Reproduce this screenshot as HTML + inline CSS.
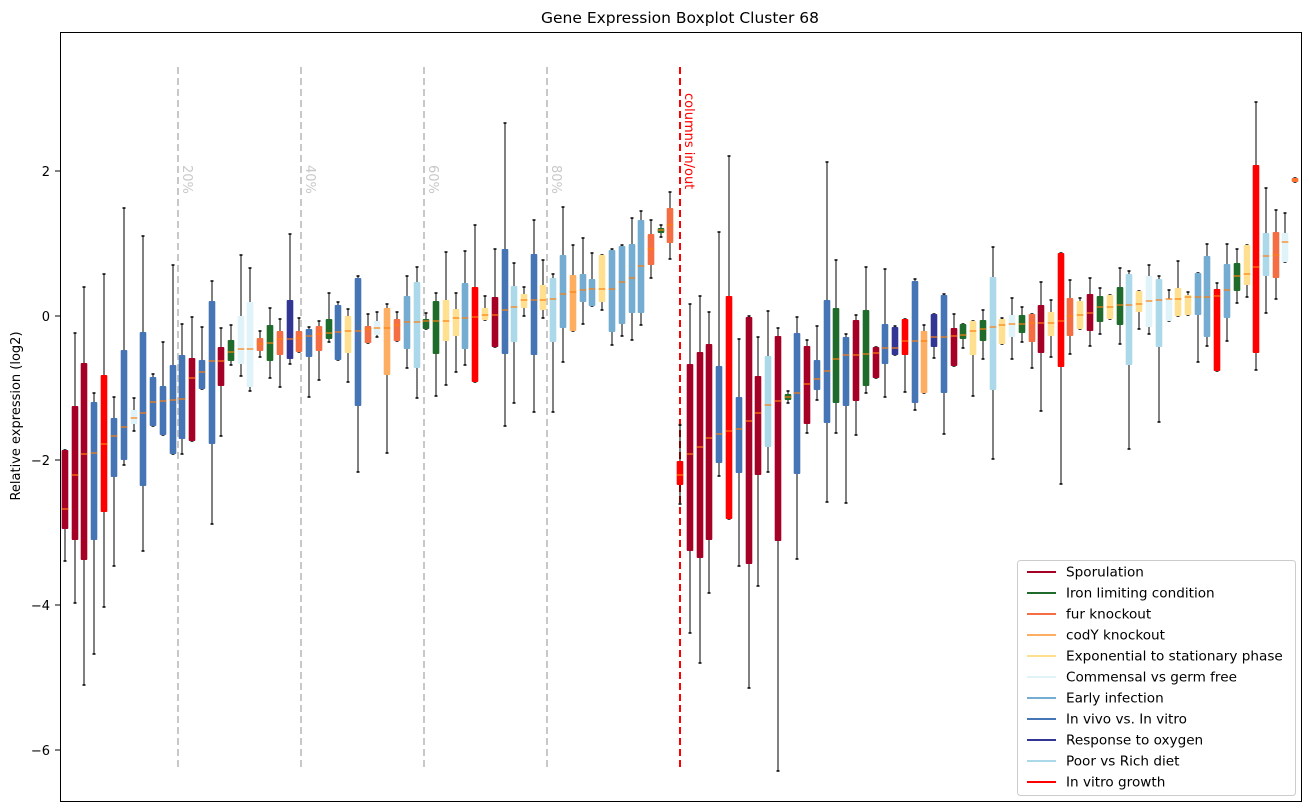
<!DOCTYPE html>
<html><head><meta charset="utf-8"><style>
body{margin:0;background:#fff}
svg{display:block;font-family:"DejaVu Sans","Liberation Sans",sans-serif}
</style></head><body>
<svg id="s" width="1309" height="812" xmlns="http://www.w3.org/2000/svg">
<rect width="1309" height="812" fill="#fff"/>
<text x="680" y="23" font-size="15.5" text-anchor="middle">Gene Expression Boxplot Cluster 68</text>
<text transform="translate(20,416) rotate(-90)" font-size="13" text-anchor="middle">Relative expression (log2)</text>
<g font-size="13" text-anchor="end">
<text x="50" y="176">2</text><text x="50" y="321">0</text><text x="50" y="465">−2</text><text x="50" y="610">−4</text><text x="50" y="755">−6</text>
</g>
<g stroke="#000"><line x1="55" x2="60" y1="171" y2="171"/><line x1="55" x2="60" y1="316" y2="316"/><line x1="55" x2="60" y1="460" y2="460"/><line x1="55" x2="60" y1="605" y2="605"/><line x1="55" x2="60" y1="750" y2="750"/></g>
<g stroke="#c8c8c8" stroke-width="2" stroke-dasharray="7,4">
<line x1="178" x2="178" y1="67" y2="767"/><line x1="301" x2="301" y1="67" y2="767"/><line x1="424" x2="424" y1="67" y2="767"/><line x1="547" x2="547" y1="67" y2="767"/>
</g>
<g fill="#c8c8c8" font-size="13">
<text transform="translate(183,165) rotate(90)">20%</text>
<text transform="translate(306,165) rotate(90)">40%</text>
<text transform="translate(429,165) rotate(90)">60%</text>
<text transform="translate(552,165) rotate(90)">80%</text>
</g>
<line x1="680" x2="680" y1="67" y2="767" stroke="#f00" stroke-width="2" stroke-dasharray="7,4"/>
<text transform="translate(685,93) rotate(90)" fill="#f00" font-size="13">columns in/out</text>
<g id="bx"></g>
<rect x="60.5" y="32.5" width="1241" height="769" fill="none" stroke="#000"/>
<g>
<rect x="1017.5" y="560.5" width="278" height="235" rx="3" fill="#fff" fill-opacity="0.85" stroke="#ccc"/>
<g id="lg" font-size="13.6"></g>
</g>
</svg>
<script>
var C={s:"#a50026",g:"#1e6b2b",f:"#f46d43",c:"#fdae61",e:"#fee090",m:"#e0f3f8",a:"#74add1",v:"#4575b4",o:"#313695",p:"#abd9e9",r:"#ff0000"};
var D=[
[65,450,450,509,529,561,"s"],[75,333,406,475,540,603,"s"],[84,287,363,454,560,685,"s"],[94,393,402,453,540,654,"v"],
[104,274,375,444,512,607,"r"],[114,397,418,436,477,566,"v"],[124,208,350,427,460,465,"v"],[134,398,410,418,424,431,"m"],
[143,236,332,413,486,551,"v"],[153,374,377,402,426,426,"v"],[163,342,386,401,435,435,"v"],[173,265,365,400,454,454,"v"],
[182,324,355,399,439,454,"v"],[192,317,358,378,441,441,"s"],[202,327,360,372,389,389,"v"],[212,281,301,361,444,524,"v"],
[221,328,347,361,386,436,"s"],[231,325,340,352,361,365,"g"],[241,255,316,349,364,376,"m"],[250,268,302,349,387,391,"m"],
[260,331,338,344,351,357,"f"],[270,308,325,343,361,378,"g"],[280,319,331,339,355,387,"f"],[290,234,300,339,359,364,"o"],
[299,318,331,338,352,352,"f"],[309,327,329,336,357,397,"v"],[319,321,326,334,351,380,"f"],[329,293,319,333,339,342,"g"],
[338,302,305,332,360,360,"v"],[348,309,316,331,353,382,"e"],[358,276,278,331,406,472,"v"],[368,314,326,329,343,343,"f"],
[377,312,321,328,335,337,"m"],[387,304,308,328,375,453,"c"],[397,312,319,325,341,341,"f"],[407,276,296,322,349,368,"a"],
[417,267,282,322,368,398,"p"],[426,313,319,321,329,329,"g"],[436,293,301,321,354,396,"g"],[446,252,300,321,341,385,"e"],
[456,293,309,318,336,372,"e"],[465,251,283,318,349,365,"a"],[475,225,287,317,382,382,"r"],[485,296,308,315,320,320,"e"],
[495,249,297,315,347,347,"s"],[505,123,249,310,354,426,"v"],[514,263,286,307,342,403,"p"],[524,287,294,300,308,316,"e"],
[534,220,254,300,355,412,"v"],[543,260,285,300,310,318,"e"],[553,274,278,299,342,412,"p"],[563,207,255,294,328,362,"a"],
[573,245,275,292,331,331,"c"],[583,238,274,290,302,324,"a"],[592,253,279,289,306,306,"a"],[602,255,255,289,302,310,"e"],
[612,249,250,289,332,345,"a"],[622,245,246,282,324,336,"a"],[632,218,244,278,313,340,"a"],[641,211,220,266,313,325,"a"],
[651,220,234,249,265,278,"f"],[661,225,228,230,233,237,"g"],[670,192,208,225,243,259,"f"],
[680,425,461,475,485,504,"r"],[690,304,364,454,551,633,"s"],[700,296,352,447,558,663,"s"],[709,312,344,438,540,593,"s"],
[719,232,366,434,463,476,"v"],[729,156,296,431,519,519,"r"],[739,339,397,429,473,566,"v"],[749,316,317,421,564,688,"s"],
[758,337,376,413,475,586,"s"],[768,311,356,405,447,472,"p"],[778,328,336,401,541,771,"s"],[788,391,394,397,400,403,"g"],
[797,317,333,393,474,559,"v"],[807,340,346,384,424,433,"s"],[817,326,360,379,390,400,"v"],[827,162,300,371,423,502,"v"],
[836,260,308,359,403,433,"g"],[846,334,337,355,406,503,"v"],[856,315,320,355,401,435,"s"],[866,267,310,354,386,393,"g"],
[876,347,347,353,378,378,"s"],[885,269,324,348,364,397,"v"],[895,326,327,348,355,355,"o"],[905,319,319,341,355,392,"r"],
[915,279,281,341,403,410,"v"],[924,325,331,341,393,393,"c"],[934,314,314,337,347,358,"o"],[944,294,295,337,393,434,"v"],
[954,314,328,336,366,366,"s"],[963,324,324,335,339,348,"g"],[973,321,321,331,355,396,"e"],[983,310,320,329,341,359,"g"],
[993,247,277,327,390,459,"p"],[1002,318,319,325,344,344,"e"],[1012,298,315,324,337,359,"m"],[1022,307,315,324,333,342,"g"],
[1032,314,314,323,342,368,"f"],[1041,282,305,323,353,411,"s"],[1051,300,312,323,336,357,"e"],[1061,253,253,321,367,484,"r"],
[1070,280,298,316,336,354,"f"],[1080,298,301,315,329,329,"e"],[1090,278,294,313,331,346,"s"],[1100,288,296,307,322,334,"g"],
[1110,295,295,307,319,319,"e"],[1120,268,287,305,325,344,"g"],[1129,271,274,305,365,449,"p"],[1139,291,291,304,312,329,"e"],
[1149,265,276,301,327,334,"m"],[1159,276,279,300,347,422,"p"],[1169,290,299,299,321,321,"m"],[1178,261,288,299,316,316,"e"],
[1188,292,295,297,315,315,"e"],[1198,273,273,297,315,362,"a"],[1207,244,256,297,337,346,"a"],[1217,283,289,296,371,371,"r"],
[1227,244,264,290,318,341,"a"],[1237,249,263,276,291,303,"g"],[1247,245,245,274,285,297,"e"],[1256,102,165,267,353,370,"r"],
[1266,188,233,256,276,313,"p"],[1276,210,232,255,278,299,"f"],[1285,213,233,242,262,262,"m"],[1295,178,178,180,182,182,"f"]
];
var h="";
D.forEach(function(d){var x=d[0],w=3.3;
h+='<line x1="'+x+'" x2="'+x+'" y1="'+d[1]+'" y2="'+d[5]+'" stroke="#000" stroke-width="1"/>';
h+='<line x1="'+(x-1.5)+'" x2="'+(x+1.5)+'" y1="'+d[1]+'" y2="'+d[1]+'" stroke="#000" stroke-width="1.5"/>';
h+='<line x1="'+(x-1.5)+'" x2="'+(x+1.5)+'" y1="'+d[5]+'" y2="'+d[5]+'" stroke="#000" stroke-width="1.5"/>';
h+='<rect x="'+(x-w)+'" y="'+d[2]+'" width="'+(2*w)+'" height="'+Math.max(d[4]-d[2],2)+'" fill="'+C[d[6]]+'" rx="1"/>';
h+='<line x1="'+(x-w)+'" x2="'+(x+w)+'" y1="'+d[3]+'" y2="'+d[3]+'" stroke="#ff7f0e" stroke-width="1.2"/>';});
document.getElementById("bx").innerHTML=h;
var L=[["s","Sporulation"],["g","Iron limiting condition"],["f","fur knockout"],["c","codY knockout"],["e","Exponential to stationary phase"],["m","Commensal vs germ free"],["a","Early infection"],["v","In vivo vs. In vitro"],["o","Response to oxygen"],["p","Poor vs Rich diet"],["r","In vitro growth"]];
var g="";L.forEach(function(l,i){var y=572+i*21;
g+='<line x1="1027" x2="1056" y1="'+y+'" y2="'+y+'" stroke="'+C[l[0]]+'" stroke-width="2"/><text x="1066" y="'+(y+4.5)+'">'+l[1]+'</text>';});
document.getElementById("lg").innerHTML=g;
</script>
</body></html>
